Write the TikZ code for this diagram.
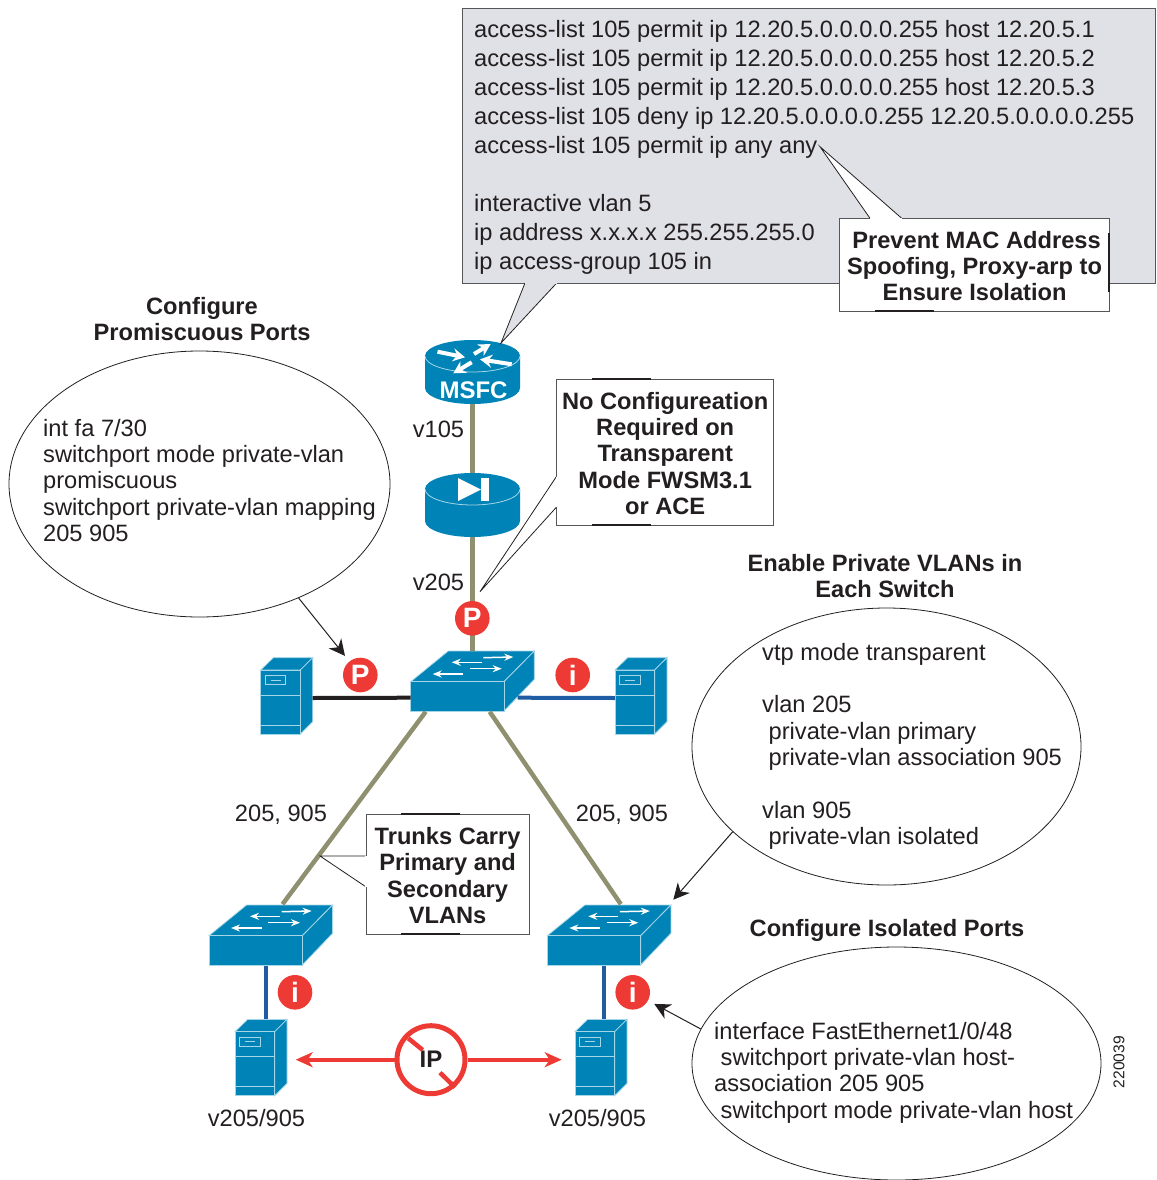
\documentclass[tikz,border=0pt]{standalone}
\usepackage{fontspec}
\setmainfont{Liberation Sans}
\usetikzlibrary{arrows.meta,shapes.geometric}
\definecolor{ciscoblue}{HTML}{0083B6}
\definecolor{edgeblue}{HTML}{A5D6E8}
\definecolor{trunkolive}{HTML}{8F906F}
\definecolor{accessblue}{HTML}{1F5CA4}
\definecolor{badgered}{HTML}{EE3A34}
\definecolor{panelgray}{HTML}{E0E1E7}
\definecolor{ink}{HTML}{231F20}
\definecolor{boxline}{HTML}{55565A}
\tikzset{
    switchicon/.pic={
        \path[fill=ciscoblue,draw=edgeblue,line width=.8pt] (0,0) -- (93.3,0) -- (123.6,-30.7) -- (37.6,-30.7) -- cycle;
        \path[fill=ciscoblue,draw=edgeblue,line width=.8pt] (93.3,0) -- (123.6,-30.7) -- (123.6,-2.4) -- (93.3,29.3) -- cycle;
        \path[fill=ciscoblue,draw=edgeblue,line width=.8pt] (0,0) rectangle (93.3,29.3);
        \foreach \a/\b/\c/\d in {72.6/-24/102.6/-24.7,71/-19.4/41/-19.4,59.3/-13/91/-13,52.6/-7.7/22/-7.7}
            \draw[-{Stealth[length=9pt,width=7pt]},white,line width=1.5pt] (\a,\b) -- (\c,\d);
        \coordinate (-west) at (0,16);
        \coordinate (-east) at (107,16);
        \coordinate (-north) at (63,-31);
        \coordinate (-back) at (73.5,-31.5);
        \coordinate (-down) at (56.5,30);
        \coordinate (-sl) at (15,30);
        \coordinate (-sr) at (79,30);
        \coordinate (-corner) at (126,-36);
    },
    servericon/.pic={
        \path[fill=ciscoblue,draw=edgeblue,line width=.8pt] (0,0) -- (12.6,-12.3) -- (52,-12.3) -- (39.6,0) -- cycle;
        \path[fill=ciscoblue,draw=edgeblue,line width=.8pt] (39.6,0) -- (52,-12.3) -- (52,51.7) -- (39.6,64) -- cycle;
        \path[fill=ciscoblue,draw=edgeblue,line width=.8pt] (0,0) rectangle (39.6,64);
        \draw[edgeblue,line width=.8pt] (0,25) -- (39.6,25) (0,55) -- (39.6,55);
        \draw[edgeblue,line width=.8pt] (4.3,5.7) rectangle (25,14.3) (10,10) -- (20.3,10);
        \coordinate (-west) at (0,28);
        \coordinate (-east) at (52,28);
        \coordinate (-top) at (30,-12.3);
    },
    cylindericon/.pic={
        \fill[ciscoblue] (-47.5,0) -- (-47.5,32) arc[start angle=180,end angle=360,x radius=47.5pt,y radius=16pt] -- (47.5,0) -- cycle;
        \fill[ciscoblue] (0,0) ellipse[x radius=47.5pt,y radius=16pt];
        \draw[edgeblue,line width=.8pt] (-47.5,0) arc[start angle=180,end angle=360,x radius=47.5pt,y radius=16pt];
        \coordinate (-north) at (0,-16);
        \coordinate (-south) at (0,48);
    },
    panel/.style={draw=boxline,fill=panelgray,line width=.8pt,rectangle,inner sep=0pt},
    notebox/.style={draw=boxline,fill=white,line width=.8pt,rectangle,inner sep=0pt,align=center,
        text=ink,font=\fontsize{23.65}{26.3}\selectfont\bfseries},
    bubble/.style={draw=ink,fill=white,ellipse,line width=.8pt,inner sep=0pt},
    codetext/.style={inner sep=0pt,align=left,anchor=north west,text=ink,font=\fontsize{23.65}{26.3}\selectfont},
    plainlabel/.style={inner sep=0pt,text=ink,font=\fontsize{23.65}{26.3}\selectfont},
    headline/.style={inner sep=0pt,align=center,text=ink,font=\fontsize{23.65}{26.3}\selectfont\bfseries},
    badge/.style={circle,fill=badgered,inner sep=0pt,minimum size=34.6pt,text=white,font=\fontsize{28}{28}\selectfont\bfseries},
    trunk/.style={trunkolive,line width=4.5pt},
    access/.style={accessblue,line width=4pt},
    pointer/.style={-{Stealth[length=16pt,width=16pt,inset=5pt]},ink,line width=1pt},
    blocked/.style={-{Stealth[length=17pt,width=15pt,inset=5pt]},badgered,line width=4pt},
    tail/.style={ink,line width=.8pt},
    thickbit/.style={ink,line width=2pt}
}
% tail of a callout: fill colour, base point, tip, base point
\newcommand{\calltail}[4]{
    \fill[#1] (#2) -- (#3) -- (#4) -- cycle;
    \draw[tail] (#2) -- (#3) -- (#4);
    \draw[#1,line width=1.6pt] (#2) -- (#4);
}
\newcommand{\notestrut}{\rule{0pt}{19.5pt}}
\begin{document}
\begin{tikzpicture}[x=1pt,y=-1pt]
    \useasboundingbox (0,0) rectangle (1156,1180);

    % devices
    \pic (msfc) at (472.5,356) {cylindericon};
    \pic (fwsm) at (472.5,489) {cylindericon};
    \pic (core) at (410.7,681.7) {switchicon};
    \pic (swl) at (209,935.7) {switchicon};
    \pic (swr) at (547.3,935.7) {switchicon};
    \pic (hostp) at (260.7,670) {servericon};
    \pic (hosti) at (615,670) {servericon};
    \pic (hostl) at (235,1031.7) {servericon};
    \pic (hostr) at (575,1031.7) {servericon};

    % router and firewall glyphs
    \foreach \a/\b/\c/\d in {-35/-4.3/-7.5/1.3,1.5/-2/18.2/-12,39.2/8.3/7.5/3.3,-0.8/6.3/-19.2/17.3}
        \draw[-{Stealth[length=12pt,width=13pt]},white,line width=4pt] (472.5+\a,356+\b) -- (472.5+\c,356+\d);
    \node[inner sep=0pt,text=white,font=\fontsize{24}{24}\selectfont\bfseries] (msfclabel) at (473.5,390) {MSFC};
    \fill[white] (458,478) -- (458,501) -- (481,489.5) -- cycle;
    \fill[white] (481,478) rectangle (489,501);

    % links
    \draw[trunk] (msfc-south) -- (fwsm-north);
    \draw[trunk] (fwsm-south) -- (fwsm-south |- core-north);
    \draw[line width=4pt,ink] (hostp-east) -- (core-west);
    \draw[access] (core-east) -- (hosti-west);
    \draw[trunk] (core-sl) -- (swl-back);
    \draw[trunk] (core-sr) -- (swr-back);
    \draw[access] (swl-down) -- (swl-down |- hostl-top);
    \draw[access] (swr-down) -- (swr-down |- hostr-top);

    % badges
    \node[badge] (pup) at (472.3,618.3) {P};
    \node[badge] (pleft) at (360.3,675) {P};
    \node[badge] (iright) at (572.7,675) {i};
    \node[badge] (ileft) at (295,992.3) {i};
    \node[badge] (ilow) at (632.7,992.3) {i};

    % blocked traffic
    \node[circle,draw=badgered,line width=5pt,fill=white,minimum size=68pt,inner sep=0pt,
        text=ink,font=\fontsize{24}{24}\selectfont\bfseries] (noip) at (431,1059.7) {IP};
    \draw[badgered,line width=4.5pt] (408.3,1038.3) -- (422.7,1050) (440,1072.7) -- (455,1087.3);
    \draw[blocked,shorten >=8.7pt] (noip.west) -- (hostl-east);
    \draw[blocked,shorten >=13.3pt] (noip.east) -- (hostr-west);

    % access-list panel
    \node[panel,minimum width=693pt,minimum height=275pt,anchor=north west] (acl) at (462,8) {};
    \coordinate (acltip) at (501,343);
    \coordinate (aclbasea) at (525,283);
    \coordinate (aclbaseb) at (556.7,283);
    \calltail{panelgray}{aclbasea}{acltip}{aclbaseb}
    \node[codetext,font=\fontsize{23.65}{29}\selectfont] (acltext) at (474,20) {access-list 105 permit ip 12.20.5.0.0.0.0.255 host 12.20.5.1\\
        access-list 105 permit ip 12.20.5.0.0.0.0.255 host 12.20.5.2\\
        access-list 105 permit ip 12.20.5.0.0.0.0.255 host 12.20.5.3\\
        access-list 105 deny ip 12.20.5.0.0.0.0.255 12.20.5.0.0.0.0.255\\
        access-list 105 permit ip any any\\
        ~\\
        interactive vlan 5\\
        ip address x.x.x.x 255.255.255.0\\
        ip access-group 105 in};

    % callouts
    \node[notebox,minimum width=269.7pt,minimum height=92.7pt,anchor=north west] (macnote) at (839.3,218.3) {\notestrut\hspace*{4pt}Prevent MAC Address\\ Spoofing, Proxy-arp to\\ Ensure Isolation};
    \coordinate (mactip) at (820,146.7);
    \coordinate (macbasea) at (870,218.3);
    \coordinate (macbaseb) at (901.7,218.3);
    \calltail{white}{macbasea}{mactip}{macbaseb}

    \node[notebox,minimum width=217pt,minimum height=145.7pt,anchor=north west] (noconf) at (556.3,379) {\notestrut No Configureation\\ Required on\\ Transparent\\ Mode FWSM3.1\\ or ACE};
    \coordinate (noconftip) at (480,591.7);
    \coordinate (noconfbasea) at (556.3,476.7);
    \coordinate (noconfbaseb) at (556.3,507.3);
    \calltail{white}{noconfbasea}{noconftip}{noconfbaseb}

    \node[notebox,minimum width=163pt,minimum height=119.7pt,anchor=north west] (trunknote) at (365.7,814) {\notestrut Trunks Carry\\ Primary and\\ Secondary\\ VLANs};
    \coordinate (trunktip) at (320,856);
    \coordinate (trunkbasea) at (365.7,856);
    \coordinate (trunkbaseb) at (365.7,886.7);
    \calltail{white}{trunkbasea}{trunktip}{trunkbaseb}

    % heavier pieces of the box edges
    \foreach \xa/\xb/\ya in {592/651/379,592/651/524.7,401/460/814,401/460/933.7,875/934/311}
        \draw[thickbit] (\xa,\ya) -- (\xb,\ya);
    \draw[thickbit] (1109,233) -- (1109,292);

    % config bubbles
    \node[bubble,minimum width=381pt,minimum height=266pt] (promisc) at (199.5,484) {};
    \node[codetext] (promisctext) at (43,419) {int fa 7/30\\
        switchport mode private-vlan\\
        promiscuous\\
        switchport private-vlan mapping\\
        205 905};
    \node[bubble,minimum width=389pt,minimum height=277pt] (enable) at (886.5,746.5) {};
    \node[codetext] (enabletext) at (762,643) {vtp mode transparent\\
        ~\\
        vlan 205\\
        \hspace{6.5pt}private-vlan primary\\
        \hspace{6.5pt}private-vlan association 905\\
        ~\\
        vlan 905\\
        \hspace{6.5pt}private-vlan isolated};
    \node[bubble,minimum width=409pt,minimum height=233pt] (isolated) at (896.5,1063.5) {};
    \node[codetext] (isolatedtext) at (714,1022) {interface FastEthernet1/0/48\\
        \hspace{6.5pt}switchport private-vlan host-\\
        association 205 905\\
        \hspace{6.5pt}switchport mode private-vlan host};

    \draw[pointer,shorten >=7pt] (promisc.-49) -- (pleft);
    \draw[pointer] (enable.209.3) -- (swr-corner);
    \draw[pointer,shorten >=7pt] (isolated.170.9) -- (ilow);

    % headlines and vlan labels
    \node[headline] (promischead) at (202,319) {Configure\\ Promiscuous Ports};
    \node[headline] (enablehead) at (885,576) {Enable Private VLANs in\\ Each Switch};
    \node[headline] (isolatedhead) at (887,930) {Configure Isolated Ports};
    \node[plainlabel] (vhundred) at (438.5,429) {v105};
    \node[plainlabel] (vtwo) at (438.5,582) {v205};
    \node[plainlabel] (trunkl) at (281,815) {205, 905};
    \node[plainlabel] (trunkr) at (622,815) {205, 905};
    \node[plainlabel] (hostllabel) at (256.5,1118) {v205/905};
    \node[plainlabel] (hostrlabel) at (597.5,1118) {v205/905};
    \node[inner sep=0pt,rotate=90,text=ink,font=\fontsize{15.6}{16}\selectfont] (figid) at (1119,1062) {220039};
\end{tikzpicture}
\end{document}
